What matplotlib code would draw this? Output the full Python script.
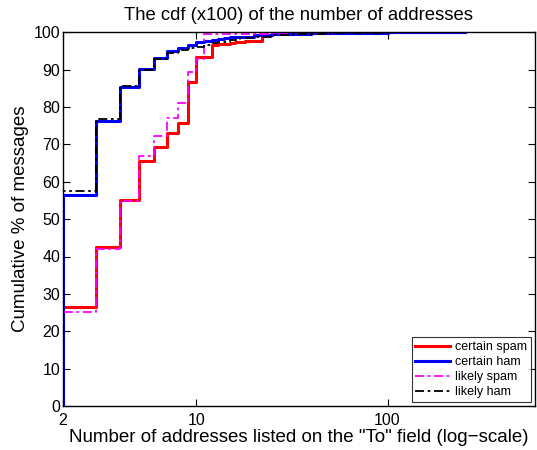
# CDF of the number of addresses on the "To" field, four message classes

import matplotlib
matplotlib.use('Agg')
import matplotlib.pyplot as plt
from matplotlib.ticker import FixedLocator, NullLocator

plt.rcParams['font.family'] = ['Liberation Sans', 'DejaVu Sans']

# step points (number of addresses -> cumulative %)
spam_x = [2, 3, 4, 5, 6, 7, 8, 9, 10, 12, 13, 14, 15, 16, 18, 20, 22, 25, 30, 40, 60, 100, 255]
spam_y = [26.6, 42.6, 55.0, 65.7, 69.3, 73.0, 75.7, 86.8, 93.5, 96.5, 96.8, 97.0, 97.2,
          97.4, 97.6, 97.8, 99.4, 99.6, 99.7, 99.8, 99.9, 100, 100]

ham_x = [2, 3, 4, 5, 6, 7, 8, 9, 10, 11, 12, 13, 14, 15, 17, 20, 25, 30, 40, 50, 70, 100, 255]
ham_y = [56.5, 76.3, 85.5, 90.2, 93.1, 95.0, 95.9, 96.6, 97.3, 97.7, 98.0, 98.3, 98.5,
         98.7, 98.9, 99.2, 99.5, 99.7, 99.8, 99.9, 99.95, 100, 100]

lspam_x = [2, 3, 4, 5, 6, 7, 8, 9, 10, 11, 15, 20, 30, 50, 100, 275]
lspam_y = [25.1, 42.0, 54.8, 66.9, 72.3, 77.0, 81.2, 89.3, 93.0, 99.5, 99.6, 99.7,
           99.8, 99.9, 100, 100]

lham_x = [2, 3, 4, 5, 6, 7, 8, 9, 10, 11, 12, 13, 15, 17, 20, 25, 30, 40, 50, 70, 100, 265]
lham_y = [57.6, 76.8, 85.6, 89.8, 92.8, 94.4, 95.3, 95.8, 96.2, 96.7, 97.1, 97.5, 98.0,
          98.4, 98.8, 99.2, 99.5, 99.7, 99.8, 99.9, 100, 100]

x_ticks = [2, 10, 100]
y_ticks = list(range(0, 101, 10))


def with_start(xs, ys):
    # curve climbs from 0 at the left edge
    return [xs[0]] + xs, [0] + ys


fig = plt.figure(figsize=(5.37, 4.5), dpi=100)
ax = fig.add_axes([0.117, 0.098, 0.879, 0.830])

x, y = with_start(spam_x, spam_y)
ax.plot(x, y, color='#ff0000', lw=2.2, drawstyle='steps-post', label='certain spam')
x, y = with_start(ham_x, ham_y)
ax.plot(x, y, color='#0000ff', lw=2.2, drawstyle='steps-post', label='certain ham')
x, y = with_start(lspam_x, lspam_y)
ax.plot(x, y, color='#ff00ff', lw=1.3, ls=(0, (5, 2, 1.5, 2)), drawstyle='steps-post', label='likely spam')
x, y = with_start(lham_x, lham_y)
ax.plot(x, y, color='black', lw=1.3, ls=(0, (5, 2, 1.5, 2)), drawstyle='steps-post', label='likely ham')

ax.set_xscale('log')
ax.set_xlim(2, 590)
ax.set_ylim(0, 100)
ax.xaxis.set_major_locator(FixedLocator(x_ticks))
ax.xaxis.set_minor_locator(NullLocator())
ax.set_xticklabels([str(t) for t in x_ticks])
ax.set_yticks(y_ticks)
ax.tick_params(direction='in', top=True, right=True, labelsize=11.5, length=5)
ax.tick_params(axis='x', pad=5)
ax.tick_params(axis='y', pad=2)
for s in ax.spines.values():
    s.set_linewidth(1.0)

ax.set_title('The cdf (x100) of the number of addresses', fontsize=13.3, pad=9)
ax.set_xlabel('Number of addresses listed on the "To" field (log\u2212scale)', fontsize=13.5, labelpad=1)
ax.set_ylabel('Cumulative % of messages', fontsize=13.5, labelpad=3)

leg = ax.legend(loc='lower right', fontsize=9, frameon=True, fancybox=False,
                edgecolor='black', borderaxespad=0.3, handlelength=2.8,
                labelspacing=0.25, borderpad=0.3, handletextpad=0.4)
leg.get_frame().set_linewidth(0.8)

plt.savefig('out.png', dpi=100)
